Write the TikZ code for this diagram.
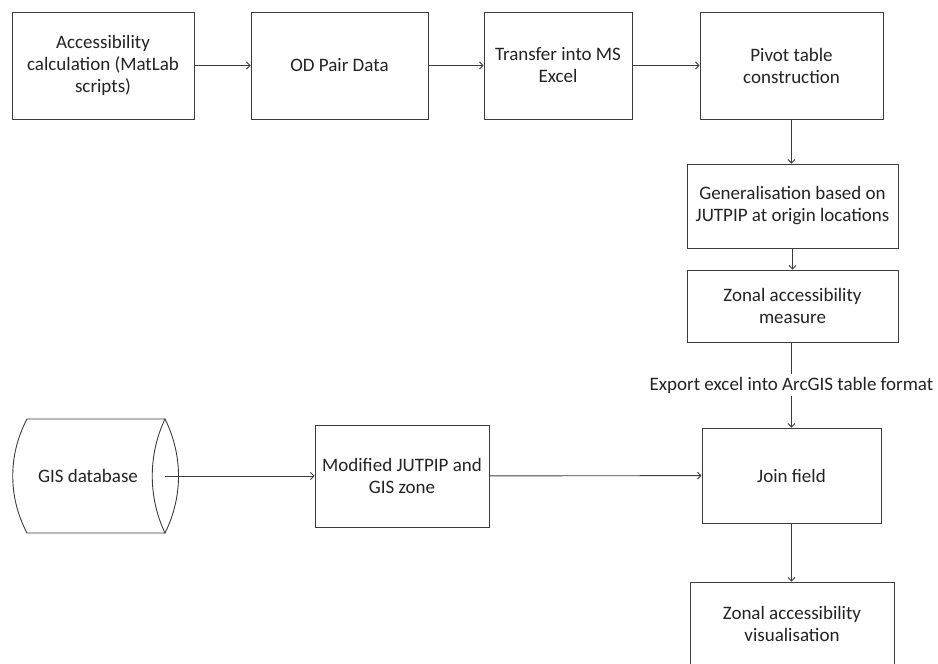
\documentclass[tikz,border=0pt]{standalone}
\usepackage{fontspec}
\setmainfont{Carlito}
\usepackage{xcolor}
\usepackage{tikz}
\usetikzlibrary{arrows.meta, positioning}
\definecolor{cline}{RGB}{60,60,60}
\definecolor{ctext}{RGB}{35,35,35}
\newcommand{\flowfont}{\fontsize{19}{22}\selectfont}
\tikzset{
  procbox/.style={rectangle, draw=cline, line width=0.9pt, fill=white,
                  text=ctext, font=\flowfont, align=center, inner sep=2pt},
  dbtext/.style={text=ctext, font=\flowfont, align=center, inner sep=2pt},
  dbline/.style={draw=cline, line width=0.9pt},
  arr/.style={-{Straight Barb[length=3.5pt,width=7pt]}, line width=0.9pt, color=cline},
  lbl/.style={font=\flowfont, text=ctext, fill=white, inner sep=3pt, midway},
}

\begin{document}
\begin{tikzpicture}[x=1pt, y=-1pt]
  \useasboundingbox (0,0) rectangle (938,664);

  % ── Nodes ──────────────────────────────────────────────────────────────────
  \node[procbox, minimum width=182, minimum height=107] at (103,  65.5) (calc)  {Accessibility\\calculation (MatLab\\scripts)};
  \node[procbox, minimum width=177, minimum height=107] at (339.5,65.5) (odpair){OD Pair Data};
  \node[procbox, minimum width=148, minimum height=107] at (558,  65.5) (excel) {Transfer into MS\\Excel};
  \node[procbox, minimum width=183, minimum height=107] at (791.5,65.5) (pivot) {Pivot table\\construction};
  \node[procbox, minimum width=211, minimum height=84]  at (792.5,206)  (gener) {Generalisation based on\\JUTPIP at origin locations};
  \node[procbox, minimum width=211, minimum height=72]  at (792.5,306)  (zonal) {Zonal accessibility\\measure};
  \node[procbox, minimum width=179, minimum height=95]  at (791.5,475.5)(join)  {Join field};
  \node[procbox, minimum width=204, minimum height=84]  at (792,  624)  (visual){Zonal accessibility\\visualisation};
  \node[procbox, minimum width=174, minimum height=102] at (402,  476)  (modzone){Modified JUTPIP and\\GIS zone};

  % ── GIS database (cylinder on its side) ────────────────────────────────────
  \draw[dbline] (27,419) -- (165,419) (27,533) -- (165,533)
                (27,419) .. controls (8,455) and (8,497) .. (27,533);
  \draw[dbline] (165,419) .. controls (148,455) and (148,497) .. (165,533)
                          .. controls (183,497) and (183,455) .. cycle;
  \node[dbtext] at (88,476) (gisdb) {GIS database};
  \coordinate (dbend) at (165,476);

  % ── Arrows ─────────────────────────────────────────────────────────────────
  \draw[arr] (calc)  -- (odpair);
  \draw[arr] (odpair) -- (excel);
  \draw[arr] (excel) -- (pivot);
  \draw[arr] (pivot.south) -- (pivot.south |- gener.north);
  \draw[arr] (gener) -- (zonal);
  \draw[arr] (zonal.south -| join.north) -- node[lbl] {Export excel into ArcGIS table format} (join.north);
  \draw[arr] (dbend) -- (modzone);
  \draw[arr] (modzone) -- (join);
  \draw[arr] (join) -- (visual.north -| join.south);
\end{tikzpicture}
\end{document}
